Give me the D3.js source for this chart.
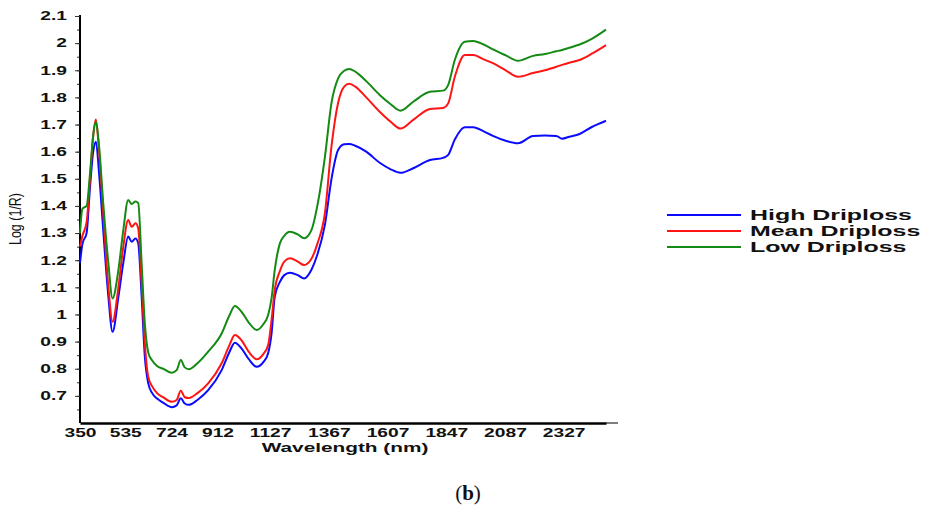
<!DOCTYPE html>
<html>
<head>
<meta charset="utf-8">
<script src="https://cdn.jsdelivr.net/npm/d3@7"></script>
<style>
  body { margin: 0; background: #fff; }
  text { font-family: "Liberation Sans", Arial, sans-serif; }
</style>
</head>
<body>
<script>
// wavelength grid (nm) shared by the three spectra
var wavelengths = [350, 360, 377, 391, 404, 415, 428, 445, 466, 483, 507, 527, 547, 561, 577, 588,
  602, 615, 629, 645, 665, 690, 725, 745, 762, 778, 795, 830, 874, 929, 960, 983, 1010, 1040,
  1072, 1100, 1119, 1133, 1146, 1167, 1185, 1208, 1240, 1266, 1296, 1320, 1351, 1378, 1405,
  1430, 1450, 1475, 1520, 1575, 1620, 1660, 1712, 1780, 1834, 1855, 1882, 1923, 1957, 2000,
  2038, 2090, 2140, 2202, 2250, 2297, 2320, 2350, 2392, 2440, 2500];

var highDriploss = [1.19, 1.26, 1.30, 1.47, 1.60, 1.637, 1.52, 1.31, 1.065, 0.936, 1.065, 1.19,
  1.287, 1.268, 1.28, 1.262, 1.065, 0.844, 0.746, 0.71, 0.69, 0.675, 0.658, 0.665, 0.691, 0.672,
  0.667, 0.685, 0.721, 0.795, 0.86, 0.896, 0.875, 0.835, 0.807, 0.825, 0.857, 0.93, 1.065, 1.12,
  1.145, 1.154, 1.145, 1.133, 1.165, 1.22, 1.33, 1.50, 1.606, 1.627, 1.628, 1.622, 1.60, 1.559,
  1.535, 1.522, 1.539, 1.569, 1.577, 1.588, 1.645, 1.69, 1.69, 1.675, 1.658, 1.64, 1.631, 1.658,
  1.66, 1.658, 1.648, 1.655, 1.665, 1.69, 1.714];

var meanDriploss = [1.25, 1.29, 1.34, 1.50, 1.66, 1.719, 1.60, 1.373, 1.102, 0.973, 1.10, 1.25,
  1.348, 1.323, 1.336, 1.317, 1.115, 0.894, 0.77, 0.735, 0.71, 0.695, 0.678, 0.685, 0.719, 0.695,
  0.692, 0.71, 0.746, 0.82, 0.885, 0.924, 0.905, 0.862, 0.835, 0.855, 0.887, 0.98, 1.09, 1.16,
  1.195, 1.207, 1.195, 1.182, 1.205, 1.26, 1.373, 1.62, 1.78, 1.84, 1.85, 1.84, 1.80, 1.747,
  1.71, 1.685, 1.717, 1.757, 1.761, 1.778, 1.876, 1.956, 1.956, 1.94, 1.926, 1.90, 1.876, 1.89,
  1.90, 1.913, 1.92, 1.928, 1.938, 1.96, 1.993];

var lowDriploss = [1.30, 1.39, 1.40, 1.52, 1.66, 1.71, 1.62, 1.41, 1.188, 1.059, 1.164, 1.311,
  1.422, 1.407, 1.416, 1.41, 1.188, 0.967, 0.86, 0.83, 0.81, 0.80, 0.785, 0.795, 0.832, 0.805,
  0.798, 0.82, 0.863, 0.93, 0.995, 1.031, 1.01, 0.97, 0.943, 0.965, 0.998, 1.06, 1.164, 1.262,
  1.29, 1.305, 1.295, 1.281, 1.311, 1.40, 1.58, 1.78, 1.87, 1.898, 1.905, 1.895, 1.86, 1.809,
  1.775, 1.751, 1.784, 1.821, 1.825, 1.846, 1.938, 2.005, 2.008, 1.995, 1.977, 1.955, 1.935, 1.953,
  1.96, 1.97, 1.975, 1.983, 1.995, 2.015, 2.05];

var xTickValues = [350, 535, 724, 912, 1127, 1367, 1607, 1847, 2087, 2327];
var yTickValues = [0.7, 0.8, 0.9, 1, 1.1, 1.2, 1.3, 1.4, 1.5, 1.6, 1.7, 1.8, 1.9, 2, 2.1];
var seriesNames = ["High Driploss", "Mean Driploss", "Low Driploss"];
var seriesColors = ["#0a0aff", "#ff1414", "#148a14"];
var seriesValues = [highDriploss, meanDriploss, lowDriploss];

var svg = d3.select("body").append("svg")
  .attr("width", 926)
  .attr("height", 510);

var x = d3.scaleLinear().domain([350, 2500]).range([80, 606]);
var y = d3.scaleLinear().domain([0.6, 2.1]).range([423, 16]);

// text in the figure is stretched sideways
var stretch = 1.6;

// minor ticks on y
svg.append("g")
  .attr("transform", "translate(80,0)")
  .call(d3.axisLeft(y).tickValues(d3.range(13, 43).map(function(d) { return d / 20; }))
    .tickSize(3).tickSizeOuter(0).tickFormat(""))
  .call(function(g) { g.select(".domain").remove(); })
  .selectAll("line").attr("stroke", "#333");

// y axis
var yAxisG = svg.append("g")
  .attr("transform", "translate(80,0)")
  .call(d3.axisLeft(y).tickValues(yTickValues).tickSize(5).tickSizeOuter(0)
    .tickFormat(function(d) { return String(+d.toFixed(1)); }));
yAxisG.select(".domain").attr("stroke-width", 2).attr("d", "M0,423V15");
yAxisG.selectAll("line").attr("stroke", "#333");
yAxisG.selectAll("text")
  .attr("x", -13 / stretch)
  .attr("transform", "scale(" + stretch + ",1)")
  .style("font-size", "12px")
  .style("font-weight", "bold")
  .attr("fill", "#111");

// x axis
var xAxisG = svg.append("g")
  .attr("transform", "translate(0,423)")
  .call(d3.axisBottom(x).tickValues(xTickValues).tickSize(0).tickSizeOuter(0).tickPadding(5)
    .tickFormat(d3.format("d")));
xAxisG.select(".domain").attr("stroke-width", 2.5);
xAxisG.selectAll("text")
  .attr("transform", "scale(" + stretch + ",1)")
  .style("font-size", "12px")
  .style("font-weight", "bold")
  .attr("fill", "#111");
svg.append("line")
  .attr("x1", 606).attr("x2", 618)
  .attr("y1", 423).attr("y2", 423)
  .attr("stroke", "#000").attr("stroke-width", 1);

// axis titles
svg.append("text")
  .attr("transform", "translate(345,452) scale(" + stretch + ",1)")
  .attr("text-anchor", "middle")
  .style("font-size", "13px")
  .style("font-weight", "bold")
  .attr("fill", "#111")
  .text("Wavelength (nm)");

svg.append("text")
  .attr("transform", "translate(21,219) rotate(-90) scale(1,1.3)")
  .attr("text-anchor", "middle")
  .style("font-size", "12.5px")
  .attr("fill", "#111")
  .text("Log (1/R)");

// spectra
var line = d3.line()
  .x(function(d, i) { return x(wavelengths[i]); })
  .y(function(d) { return y(d); })
  .curve(d3.curveMonotoneX);

svg.selectAll(".spectrum")
  .data(seriesValues)
  .enter().append("path")
  .attr("class", "spectrum")
  .attr("d", line)
  .attr("fill", "none")
  .attr("stroke", function(d, i) { return seriesColors[i]; })
  .attr("stroke-width", 2)
  .attr("stroke-linejoin", "round");

// legend
var legend = svg.selectAll(".legend")
  .data(seriesNames)
  .enter().append("g")
  .attr("class", "legend")
  .attr("transform", function(d, i) { return "translate(667," + (215 + i * 16) + ")"; });

legend.append("line")
  .attr("x1", 0).attr("x2", 74)
  .attr("stroke", function(d, i) { return seriesColors[i]; })
  .attr("stroke-width", 2);

legend.append("text")
  .attr("transform", "translate(83,5) scale(1.78,1)")
  .style("font-size", "14px")
  .style("font-weight", "bold")
  .attr("fill", "#111")
  .text(function(d) { return d; });

// panel caption
var cap = svg.append("text")
  .attr("x", 468).attr("y", 500)
  .attr("text-anchor", "middle")
  .style("font-family", "'Liberation Serif', 'DejaVu Serif', serif")
  .style("font-size", "21px")
  .attr("fill", "#111");
cap.append("tspan").text("(");
cap.append("tspan").style("font-weight", "bold").text("b");
cap.append("tspan").text(")");
</script>
</body>
</html>
